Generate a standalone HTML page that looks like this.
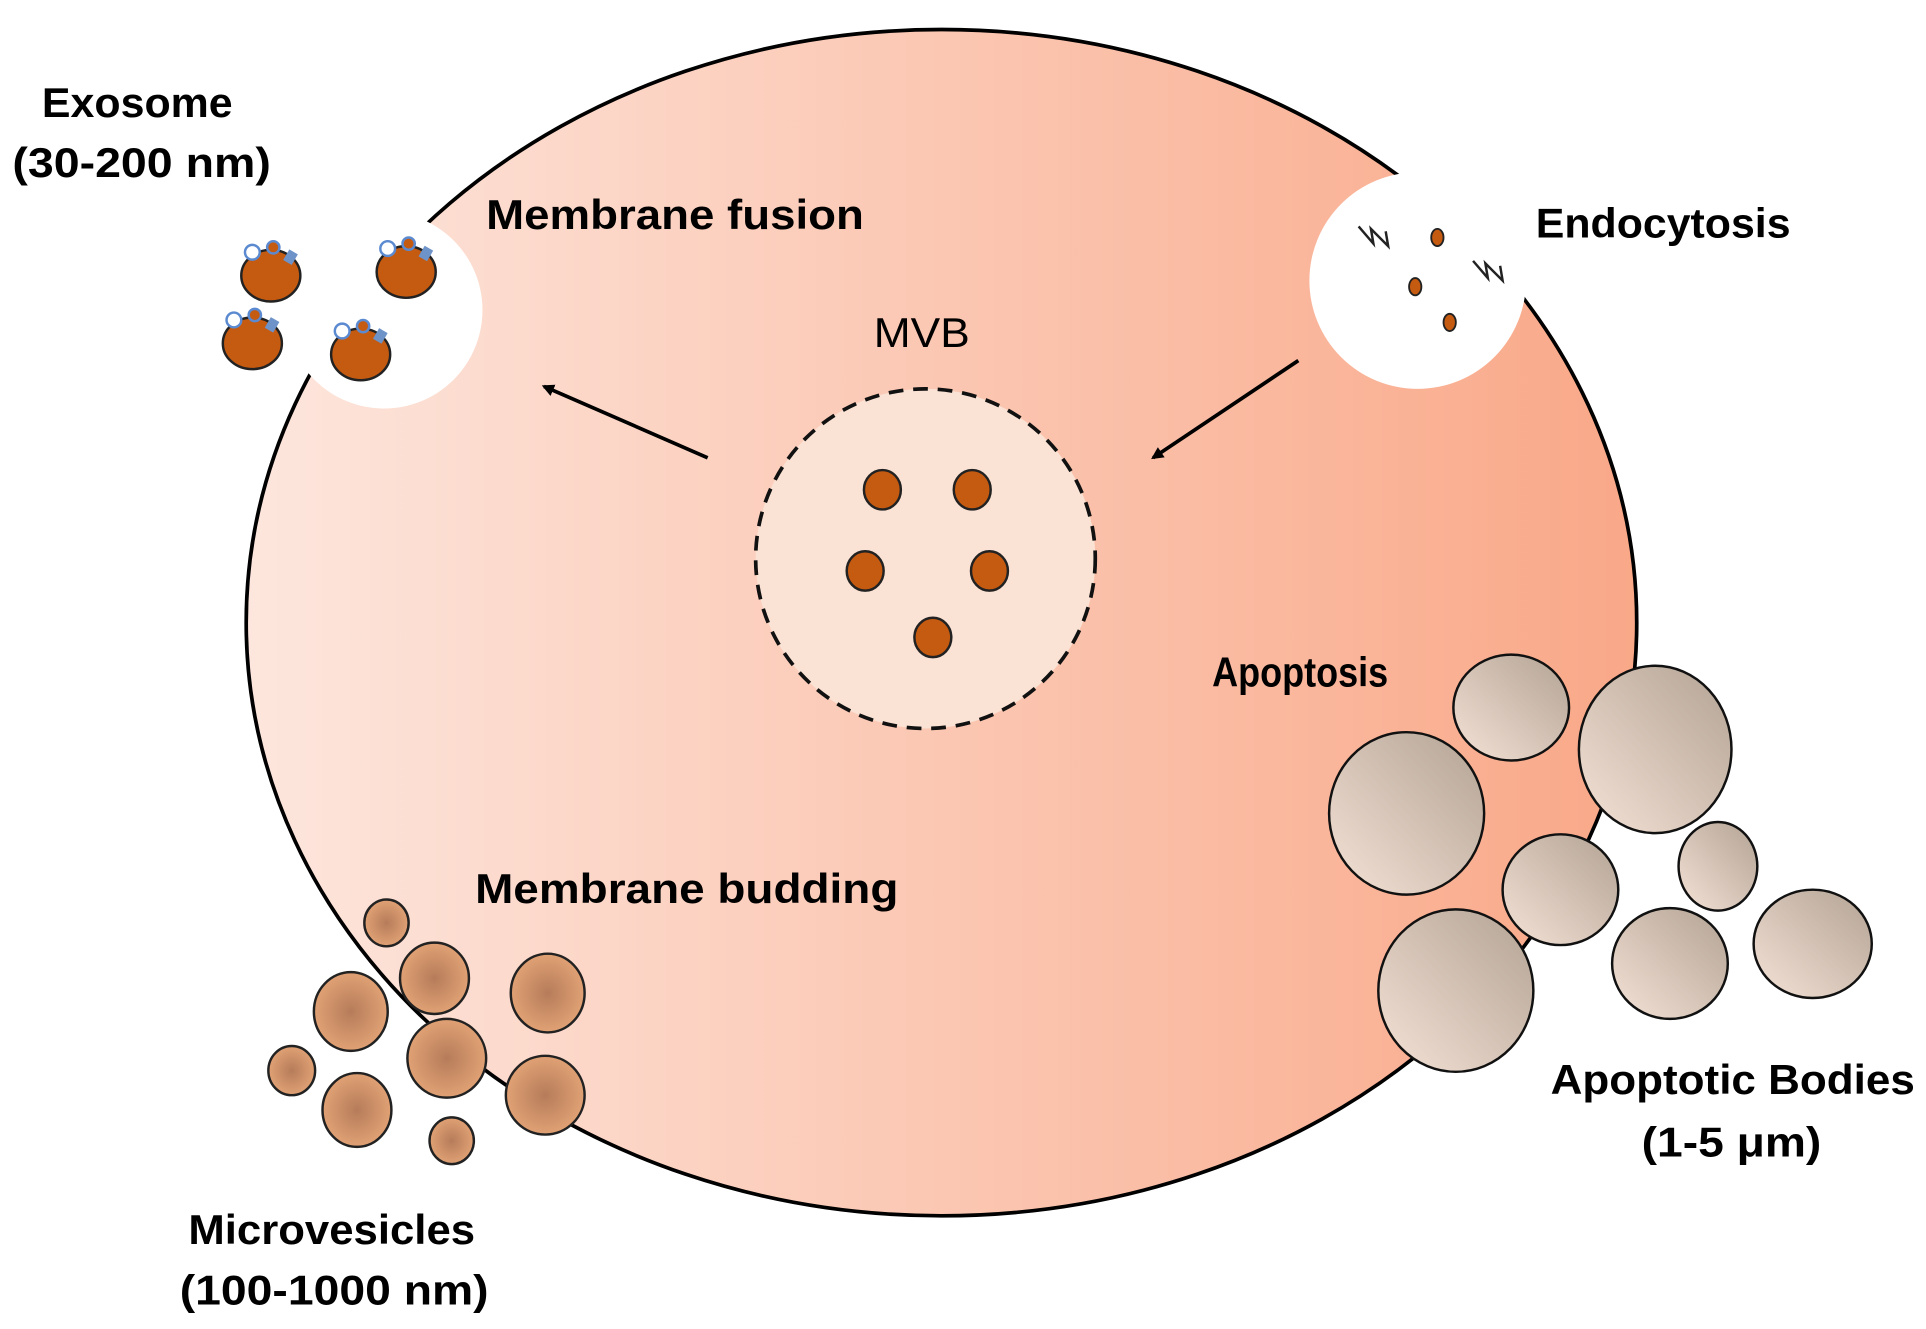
<!DOCTYPE html>
<html><head><meta charset="utf-8"><style>html,body{margin:0;padding:0;background:#fff}svg{display:block}</style></head>
<body>
<svg width="1926" height="1329" viewBox="0 0 1565 1080" xmlns="http://www.w3.org/2000/svg" font-family="Liberation Sans, sans-serif">
<defs>
<linearGradient id="cell" x1="0" x2="1" y1="0" y2="0">
<stop offset="0" stop-color="#fde6dd"/><stop offset="1" stop-color="#f9a888"/></linearGradient>
<radialGradient id="mv"><stop offset="0" stop-color="#b67c5a"/><stop offset="1" stop-color="#e0a174"/></radialGradient>
<linearGradient id="ab" x1="0" y1="1" x2="1" y2="0"><stop offset="0" stop-color="#f4e2d6"/><stop offset="1" stop-color="#b3a394"/></linearGradient>
<marker id="ar" markerWidth="10" markerHeight="10" refX="8" refY="5" orient="auto" markerUnits="userSpaceOnUse"><path d="M0,0 L10,5 L0,10 z" fill="#000"/></marker>
<g id="exo"><ellipse cx="0" cy="0" rx="24" ry="21" fill="#c55a11" stroke="#222" stroke-width="2"/>
<circle cx="-15" cy="-19" r="6" fill="#fff" stroke="#5b8ad0" stroke-width="2"/>
<circle cx="2" cy="-23" r="5" fill="#c55a11" stroke="#5b8ad0" stroke-width="2"/>
<rect x="12" y="-20" width="8" height="10" fill="#6d93c9" transform="rotate(30 16 -15)"/></g>
</defs>
<ellipse cx="765" cy="506" rx="565" ry="482" fill="url(#cell)" stroke="#000" stroke-width="3"/>
<circle cx="312" cy="252" r="80" fill="#fff"/>
<circle cx="1152" cy="228" r="88" fill="#fff"/>
<use href="#exo" x="220" y="224"/><use href="#exo" x="330" y="221"/><use href="#exo" x="205" y="279"/><use href="#exo" x="293" y="288"/>
<path d="M1104,184 L1116,198 L1114,186 L1128,200 L1126,188" fill="none" stroke="#222" stroke-width="2"/>
<path d="M1197,212 L1209,226 L1207,214 L1221,228 L1219,216" fill="none" stroke="#222" stroke-width="2"/>
<g fill="#c55a11" stroke="#222" stroke-width="1.5"><ellipse cx="1168" cy="193" rx="5" ry="7"/><ellipse cx="1150" cy="233" rx="5" ry="7"/><ellipse cx="1178" cy="262" rx="5" ry="7"/></g>
<circle cx="752" cy="454" r="138" fill="#fae3d5" stroke="#111" stroke-width="3" stroke-dasharray="12,8"/>
<g fill="#c55a11" stroke="#222" stroke-width="2"><ellipse cx="717" cy="398" rx="15" ry="16"/><ellipse cx="790" cy="398" rx="15" ry="16"/><ellipse cx="703" cy="464" rx="15" ry="16"/><ellipse cx="804" cy="464" rx="15" ry="16"/><ellipse cx="758" cy="518" rx="15" ry="16"/></g>
<line x1="575" y1="372" x2="442" y2="314" stroke="#000" stroke-width="3" marker-end="url(#ar)"/>
<line x1="1055" y1="293" x2="937" y2="372" stroke="#000" stroke-width="3" marker-end="url(#ar)"/>
<g fill="url(#mv)" stroke="#222" stroke-width="2">
<ellipse cx="314" cy="750" rx="18" ry="19"/><ellipse cx="353" cy="795" rx="28" ry="29"/><ellipse cx="285" cy="822" rx="30" ry="32"/><ellipse cx="445" cy="807" rx="30" ry="32"/><ellipse cx="363" cy="860" rx="32" ry="32"/><ellipse cx="237" cy="870" rx="19" ry="20"/><ellipse cx="290" cy="902" rx="28" ry="30"/><ellipse cx="443" cy="890" rx="32" ry="32"/><ellipse cx="367" cy="927" rx="18" ry="19"/></g>
<g fill="url(#ab)" stroke="#111" stroke-width="2">
<ellipse cx="1228" cy="575" rx="47" ry="43"/><ellipse cx="1345" cy="609" rx="62" ry="68"/><ellipse cx="1143" cy="661" rx="63" ry="66"/><ellipse cx="1268" cy="723" rx="47" ry="45"/><ellipse cx="1396" cy="704" rx="32" ry="36"/><ellipse cx="1183" cy="805" rx="63" ry="66"/><ellipse cx="1357" cy="783" rx="47" ry="45"/><ellipse cx="1473" cy="767" rx="48" ry="44"/></g>
<g font-weight="bold" font-size="34" fill="#000">
<text x="34" y="95" textLength="155" lengthAdjust="spacingAndGlyphs">Exosome</text>
<text x="10" y="144" textLength="210" lengthAdjust="spacingAndGlyphs">(30-200 nm)</text>
<text x="395" y="186" textLength="307" lengthAdjust="spacingAndGlyphs">Membrane fusion</text>
<text x="1248" y="193" textLength="207" lengthAdjust="spacingAndGlyphs">Endocytosis</text>
<text x="985" y="558" textLength="143" lengthAdjust="spacingAndGlyphs">Apoptosis</text>
<text x="386" y="734" textLength="344" lengthAdjust="spacingAndGlyphs">Membrane budding</text>
<text x="153" y="1011" textLength="233" lengthAdjust="spacingAndGlyphs">Microvesicles</text>
<text x="146" y="1060" textLength="251" lengthAdjust="spacingAndGlyphs">(100-1000 nm)</text>
<text x="1260" y="889" textLength="296" lengthAdjust="spacingAndGlyphs">Apoptotic Bodies</text>
<text x="1334" y="940" textLength="146" lengthAdjust="spacingAndGlyphs">(1-5 μm)</text>
</g>
<text x="710" y="282" font-size="34" textLength="78" lengthAdjust="spacingAndGlyphs">MVB</text>
</svg>
</body></html>
